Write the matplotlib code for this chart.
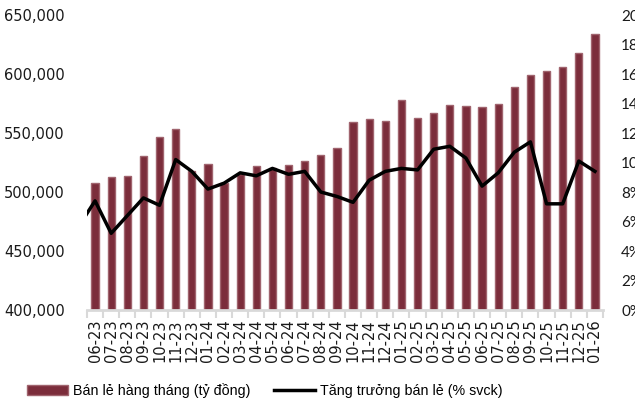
import matplotlib
matplotlib.use("Agg")
import matplotlib.pyplot as plt
from matplotlib.ticker import FuncFormatter, FixedLocator, PercentFormatter

# Months shown on the x axis
months = ["06-23", "07-23", "08-23", "09-23", "10-23", "11-23", "12-23",
          "01-24", "02-24", "03-24", "04-24", "05-24", "06-24", "07-24",
          "08-24", "09-24", "10-24", "11-24", "12-24", "01-25", "02-25",
          "03-25", "04-25", "05-25", "06-25", "07-25", "08-25", "09-25",
          "10-25", "11-25", "12-25", "01-26"]

# Monthly retail sales (billion VND)
retail_sales = [508000, 512700, 513800, 530200, 546900, 553400, 518000,
                523500, 508000, 515000, 522000, 520000, 523000, 526000,
                531000, 537600, 559000, 561900, 560000, 577700, 563000,
                567200, 574000, 572900, 572300, 574900, 588700, 598900,
                602800, 606200, 618100, 634200]

# YoY growth (%), first value is 05-23 (partly cut off at left edge)
growth_months = ["05-23"] + months
growth = [5.7, 7.4, 5.2, 6.4, 7.6, 7.1, 10.2, 9.4, 8.2, 8.6, 9.3, 9.1,
          9.6, 9.2, 9.4, 8.0, 7.7, 7.3, 8.8, 9.4, 9.6, 9.5, 10.9, 11.1,
          10.3, 8.4, 9.3, 10.7, 11.4, 7.2, 7.2, 10.1, 9.4]

fig = plt.figure(figsize=(6.35, 4.09), dpi=100)
ax = fig.add_axes([0.137, 0.242, 0.8126, 0.7213])

x = list(range(len(months)))
ax.bar(x, retail_sales, width=0.45, color="#7B2D3B", edgecolor="#A0646E",
       linewidth=1, label="Bán lẻ hàng tháng (tỷ đồng)", zorder=2)
ax.set_ylim(400000, 650000)
ax.set_xlim(-0.5, len(months) - 0.5)
ax.set_yticks(range(400000, 650001, 50000))
ax.yaxis.set_major_formatter(FuncFormatter(lambda v, p: f"{int(v):,}"))
ax.tick_params(axis="y", length=0, pad=16, labelsize=10.5, colors="#1a1a1a")

ax.set_xticks(x)
ax.set_xticklabels(months, rotation=90)
ax.tick_params(axis="x", which="major", length=0, pad=7, labelsize=10.5,
               colors="#1a1a1a")
ax.xaxis.set_minor_locator(FixedLocator([i - 0.5 for i in range(len(months) + 1)]))
ax.tick_params(axis="x", which="minor", length=6, width=1.5, color="#D9D9D9")

for s in ["top", "left", "right"]:
    ax.spines[s].set_visible(False)
ax.spines["bottom"].set_color("#D9D9D9")
ax.spines["bottom"].set_linewidth(2)

ax2 = ax.twinx()
gx = list(range(-1, len(months)))
ax2.plot(gx, [g / 100 for g in growth], color="black", linewidth=2.5,
         label="Tăng trưởng bán lẻ (% svck)", zorder=3)
ax2.set_ylim(0, 0.20)
ax2.set_yticks([i / 100 for i in range(0, 21, 2)])
ax2.yaxis.set_major_formatter(PercentFormatter(1.0, decimals=0))
ax2.tick_params(axis="y", length=0, pad=13, labelsize=11, colors="#1a1a1a")
for lab in ax2.get_yticklabels():
    lab.set_fontfamily("Lato")
for s in ["top", "left", "right", "bottom"]:
    ax2.spines[s].set_visible(False)
ax2.set_xlim(-0.5, len(months) - 0.5)

h1, l1 = ax.get_legend_handles_labels()
h2, l2 = ax2.get_legend_handles_labels()
fig.legend(h1 + h2, l1 + l2, loc="center left", bbox_to_anchor=(0.042, 0.045),
           ncol=2, frameon=False, handlelength=2.9, handletextpad=0.36,
           columnspacing=1.6, borderpad=0, borderaxespad=0,
           prop={"family": "Liberation Sans", "size": 10.3})

fig.savefig("out.png", dpi=100)
